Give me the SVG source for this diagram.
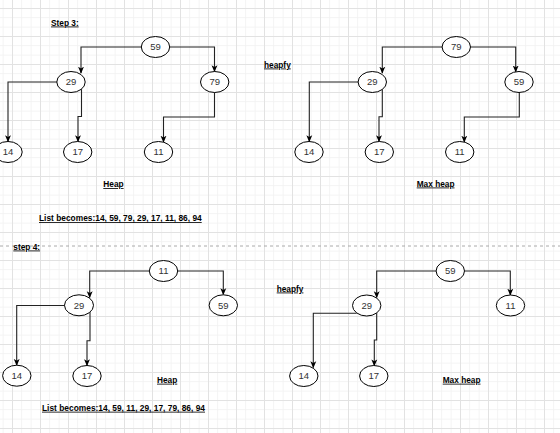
<svg xmlns="http://www.w3.org/2000/svg" width="560" height="433" viewBox="0 0 560 433">
<defs>
<pattern id="grid" x="12" y="8" width="28" height="28" patternUnits="userSpaceOnUse">
<rect x="9.33" y="0" width="0.8" height="28" fill="#f1f1f1"/>
<rect x="18.67" y="0" width="0.8" height="28" fill="#f1f1f1"/>
<rect x="0" y="9.33" width="28" height="0.8" fill="#f1f1f1"/>
<rect x="0" y="18.67" width="28" height="0.8" fill="#f1f1f1"/>
<rect x="0" y="0" width="1" height="28" fill="#e2e2e2"/>
<rect x="0" y="0" width="28" height="1" fill="#e2e2e2"/>
</pattern>
<marker id="arr" viewBox="0 0 10 10" refX="9" refY="5" markerWidth="7" markerHeight="7" orient="auto" markerUnits="userSpaceOnUse">
<path d="M0,0.8 L10,5 L0,9.2 L2.5,5 z" fill="#000"/>
</marker>
<style>
.node ellipse{fill:#fff;stroke:#000;stroke-width:1}
.node text{font-family:"Liberation Sans",Arial,sans-serif;font-size:9.5px;fill:#333;text-anchor:middle}
.edges path{fill:none;stroke:#222;stroke-width:1.1;marker-end:url(#arr)}
.lbl{font-family:"Liberation Sans",Arial,sans-serif;font-size:8.3px;font-weight:bold;fill:#000;text-decoration:underline}
</style>
</defs>
<rect width="560" height="433" fill="#fff"/>
<rect width="560" height="433" fill="url(#grid)"/>
<line x1="0" y1="246" x2="560" y2="246" stroke="#aaa" stroke-width="1" stroke-dasharray="3,3"/>

<g id="labels">
<text class="lbl" x="51" y="25.5">Step 3:</text>
<text class="lbl" x="264" y="67.5">heapfy</text>
<text class="lbl" x="103.3" y="187">Heap</text>
<text class="lbl" x="416.7" y="186.5">Max heap</text>
<text class="lbl" x="39" y="221" textLength="162.7" lengthAdjust="spacingAndGlyphs">List becomes:14, 59, 79, 29, 17, 11, 86, 94</text>
<text class="lbl" x="13.3" y="249.5">step 4:</text>
<text class="lbl" x="276.7" y="291.5">heapfy</text>
<text class="lbl" x="157" y="382.7">Heap</text>
<text class="lbl" x="442.7" y="382.7">Max heap</text>
<text class="lbl" x="42" y="410.7" textLength="163" lengthAdjust="spacingAndGlyphs">List becomes:14, 59, 11, 29, 17, 79, 86, 94</text>
</g>

<g class="edges" id="connectors">
<path d="M141.5,47 H81 V73"/>
<path d="M169.5,47 H214.5 V71.5"/>
<path d="M57,82 H8 V141.5"/>
<path d="M81.5,89 V116.5 H78 V141.5"/>
<path d="M214.5,92.5 V117 H163.5 V142"/>

<path d="M442.3,47 H382.3 V73"/>
<path d="M470.3,47 H515.7 V71.8"/>
<path d="M358.3,82 H309.3 V141.5"/>
<path d="M382.3,89 V116.7 H379 V141.5"/>
<path d="M519.3,92.5 V117 H464.3 V142"/>

<path d="M149.5,271 H89.7 V297.5"/>
<path d="M177.5,271 H223.3 V294.5"/>
<path d="M65,305.5 H16.7 V365.2"/>
<path d="M90,312 V340.7 H87 V365.5"/>

<path d="M436,271 H376.7 V297.5"/>
<path d="M464.7,271 H510.3 V295"/>
<path d="M356.7,313.3 H313.3 V367.5"/>
<path d="M376.7,313 V340 H374.3 V365.7"/>
</g>

<g class="node" id="s3a-59"><ellipse cx="155.5" cy="47" rx="14.2" ry="10.5"/><text x="155.5" y="50.4">59</text></g>
<g class="node" id="s3a-29"><ellipse cx="71" cy="82" rx="14.2" ry="10.5"/><text x="71" y="85.4">29</text></g>
<g class="node" id="s3a-79"><ellipse cx="214.7" cy="82" rx="14.2" ry="10.5"/><text x="214.7" y="85.4">79</text></g>
<g class="node" id="s3a-14"><ellipse cx="8" cy="152" rx="14.2" ry="10.5"/><text x="8" y="155.4">14</text></g>
<g class="node" id="s3a-17"><ellipse cx="77.7" cy="152" rx="14.2" ry="10.5"/><text x="77.7" y="155.4">17</text></g>
<g class="node" id="s3a-11"><ellipse cx="158.5" cy="152" rx="14.2" ry="10.5"/><text x="158.5" y="155.4">11</text></g>

<g class="node" id="s3b-79"><ellipse cx="456.3" cy="47" rx="14.2" ry="10.5"/><text x="456.3" y="50.4">79</text></g>
<g class="node" id="s3b-29"><ellipse cx="372.3" cy="82" rx="14.2" ry="10.5"/><text x="372.3" y="85.4">29</text></g>
<g class="node" id="s3b-59"><ellipse cx="519" cy="82" rx="14.2" ry="10.5"/><text x="519" y="85.4">59</text></g>
<g class="node" id="s3b-14"><ellipse cx="309" cy="152" rx="14.2" ry="10.5"/><text x="309" y="155.4">14</text></g>
<g class="node" id="s3b-17"><ellipse cx="379.3" cy="152" rx="14.2" ry="10.5"/><text x="379.3" y="155.4">17</text></g>
<g class="node" id="s3b-11"><ellipse cx="459.7" cy="152" rx="14.2" ry="10.5"/><text x="459.7" y="155.4">11</text></g>

<g class="node" id="s4a-11"><ellipse cx="163.5" cy="271" rx="14.2" ry="10.5"/><text x="163.5" y="274.4">11</text></g>
<g class="node" id="s4a-29"><ellipse cx="79" cy="305.3" rx="14.5" ry="10.5"/><text x="79" y="308.7">29</text></g>
<g class="node" id="s4a-59"><ellipse cx="223.3" cy="305.3" rx="14.2" ry="10.5"/><text x="223.3" y="308.7">59</text></g>
<g class="node" id="s4a-14"><ellipse cx="16.8" cy="375.7" rx="14.2" ry="10.5"/><text x="16.8" y="379.1">14</text></g>
<g class="node" id="s4a-17"><ellipse cx="87" cy="376" rx="14.2" ry="10.5"/><text x="87" y="379.4">17</text></g>

<g class="node" id="s4b-59"><ellipse cx="450.3" cy="271" rx="14.2" ry="10.5"/><text x="450.3" y="274.4">59</text></g>
<g class="node" id="s4b-11"><ellipse cx="510.5" cy="305.5" rx="14.2" ry="10.5"/><text x="510.5" y="308.9">11</text></g>
<g class="node" id="s4b-29"><ellipse cx="366.7" cy="305.5" rx="14.2" ry="10.5"/><text x="366.7" y="308.9">29</text></g>
<g class="node" id="s4b-14"><ellipse cx="303.8" cy="376" rx="14.2" ry="10.5"/><text x="303.8" y="379.4">14</text></g>
<g class="node" id="s4b-17"><ellipse cx="373.8" cy="376" rx="14.2" ry="10.5"/><text x="373.8" y="379.4">17</text></g>
</svg>
